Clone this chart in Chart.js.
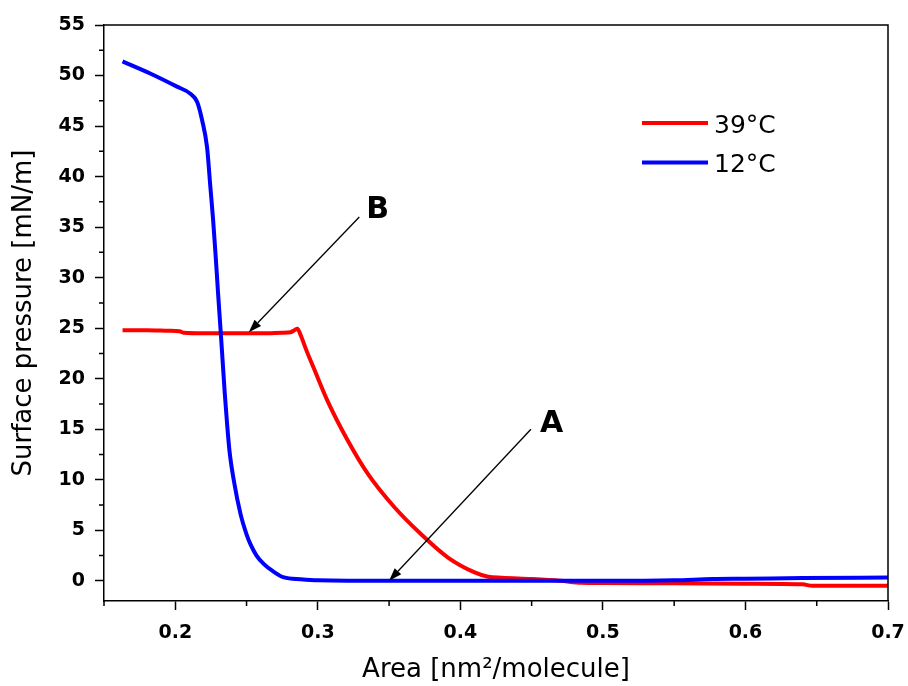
<!DOCTYPE html>
<html><head><meta charset="utf-8">
<script src="https://cdn.jsdelivr.net/npm/chart.js@4/dist/chart.umd.min.js"></script>
<style>html,body{margin:0;padding:0;background:#fff}#wrap{width:908px;height:686px}</style>
</head><body><div id="wrap"><canvas id="c" width="908" height="686"></canvas></div>
<script>
// ---- data ----
const seriesNames = ['39\u00B0C', '12\u00B0C'];

const area39 = [0.163, 0.180, 0.195, 0.203, 0.206, 0.220, 0.240, 0.260, 0.275, 0.281, 0.2835, 0.2857, 0.2880, 0.2920, 0.297, 0.3068, 0.3209, 0.335, 0.3536, 0.3725, 0.3913, 0.410, 0.4195, 0.429, 0.450, 0.470, 0.485, 0.500, 0.550, 0.600, 0.640, 0.647, 0.700];
const pressure39 = [24.8, 24.8, 24.75, 24.7, 24.55, 24.5, 24.5, 24.5, 24.55, 24.6, 24.8, 24.95, 24.3, 22.8, 21.1, 17.8, 13.9, 10.6, 7.3, 4.6, 2.3, 0.83, 0.4, 0.3, 0.17, 0.0, -0.2, -0.23, -0.25, -0.3, -0.35, -0.5, -0.5];

const area12 = [0.163, 0.1824, 0.2012, 0.2106, 0.2153, 0.2188, 0.2223, 0.2246, 0.2265, 0.2282, 0.2300, 0.2317, 0.2332, 0.2347, 0.2362, 0.2380, 0.2411, 0.2458, 0.2500, 0.2528, 0.2570, 0.2622, 0.2680, 0.2763, 0.288, 0.300, 0.350, 0.400, 0.450, 0.500, 0.550, 0.577, 0.600, 0.640, 0.700];
const pressure12 = [51.4, 50.2, 48.9, 48.2, 47.4, 45.6, 42.9, 39.0, 35.8, 32.4, 28.5, 25.0, 21.8, 18.6, 15.8, 12.9, 9.9, 6.6, 4.6, 3.6, 2.5, 1.65, 1.0, 0.33, 0.15, 0.05, 0.0, 0.0, 0.0, 0.0, 0.05, 0.17, 0.2, 0.27, 0.33];

const xTickValues = [0.2, 0.3, 0.4, 0.5, 0.6, 0.7];
const xTickLabels = ['0.2', '0.3', '0.4', '0.5', '0.6', '0.7'];
const xMinorTicks = [0.15, 0.25, 0.35, 0.45, 0.55, 0.65];
const yTickValues = [0, 5, 10, 15, 20, 25, 30, 35, 40, 45, 50, 55];
const yTickLabels = ['0', '5', '10', '15', '20', '25', '30', '35', '40', '45', '50', '55'];
const yMinorTicks = [2.5, 7.5, 12.5, 17.5, 22.5, 27.5, 32.5, 37.5, 42.5, 47.5, 52.5];

const xTitle = 'Area [nm\u00B2/molecule]';
const yTitle = 'Surface pressure [mN/m]';

// annotation arrows (data coordinates)
const annotationLabels = ['A', 'B'];
const arrowFrom = [[0.4495, 15.0], [0.3291, 36.0]];
const arrowTo = [[0.350, 0.0], [0.2516, 24.6]];
const labelAt = [[0.464, 14.7], [0.342, 35.9]];

const RED = '#ff0000';
const BLUE = '#0000ff';
const FONT = 'DejaVu Sans';

const toPts = (xs, ys) => xs.map((x, i) => ({ x: x, y: ys[i] }));

const extrasPlugin = {
  id: 'extras',
  afterDraw(chart) {
    const ctx = chart.ctx;
    const ca = chart.chartArea;
    const xs = chart.scales.x, ys = chart.scales.y;
    ctx.save();
    // frame top and right
    ctx.strokeStyle = '#000';
    ctx.lineWidth = 1.5;
    ctx.beginPath();
    ctx.moveTo(ca.left, ca.top);
    ctx.lineTo(ca.right, ca.top);
    ctx.lineTo(ca.right, ca.bottom);
    ctx.stroke();
    // minor ticks
    ctx.lineWidth = 1.5;
    ctx.beginPath();
    xMinorTicks.forEach(v => {
      const p = xs.getPixelForValue(v);
      ctx.moveTo(p, ca.bottom);
      ctx.lineTo(p, ca.bottom + 5);
    });
    yMinorTicks.forEach(v => {
      const p = ys.getPixelForValue(v);
      ctx.moveTo(ca.left - 5, p);
      ctx.lineTo(ca.left, p);
    });
    ctx.stroke();

    // arrows + labels
    for (let i = 0; i < annotationLabels.length; i++) {
      const x0 = xs.getPixelForValue(arrowFrom[i][0]), y0 = ys.getPixelForValue(arrowFrom[i][1]);
      const x1 = xs.getPixelForValue(arrowTo[i][0]), y1 = ys.getPixelForValue(arrowTo[i][1]);
      const ang = Math.atan2(y1 - y0, x1 - x0);
      const hl = 13, hw = 4.5;
      const bx = x1 - hl * Math.cos(ang), by = y1 - hl * Math.sin(ang);
      ctx.strokeStyle = '#000';
      ctx.lineWidth = 1.3;
      ctx.beginPath();
      ctx.moveTo(x0, y0);
      ctx.lineTo(bx, by);
      ctx.stroke();
      ctx.fillStyle = '#000';
      ctx.beginPath();
      ctx.moveTo(x1, y1);
      ctx.lineTo(bx + hw * Math.sin(ang), by - hw * Math.cos(ang));
      ctx.lineTo(bx - hw * Math.sin(ang), by + hw * Math.cos(ang));
      ctx.closePath();
      ctx.fill();
      ctx.font = 'bold 30px "' + FONT + '"';
      ctx.textAlign = 'center';
      ctx.textBaseline = 'alphabetic';
      ctx.fillText(annotationLabels[i], xs.getPixelForValue(labelAt[i][0]), ys.getPixelForValue(labelAt[i][1]));
    }

    // legend
    const colors = [RED, BLUE];
    const lineY = [123, 162.5];
    for (let i = 0; i < seriesNames.length; i++) {
      ctx.strokeStyle = colors[i];
      ctx.lineWidth = 4;
      ctx.lineCap = 'butt';
      ctx.beginPath();
      ctx.moveTo(642, lineY[i]);
      ctx.lineTo(708, lineY[i]);
      ctx.stroke();
      ctx.fillStyle = '#000';
      ctx.font = '25px "' + FONT + '"';
      ctx.textAlign = 'left';
      ctx.textBaseline = 'alphabetic';
      ctx.fillText(seriesNames[i], 714, lineY[i] + 9.5);
    }
    ctx.restore();
  }
};

new Chart(document.getElementById('c'), {
  type: 'line',
  data: {
    datasets: [
      { label: seriesNames[0], data: toPts(area39, pressure39), borderColor: RED, backgroundColor: RED,
        borderWidth: 4, pointRadius: 0, cubicInterpolationMode: 'monotone', order: 2, fill: false },
      { label: seriesNames[1], data: toPts(area12, pressure12), borderColor: BLUE, backgroundColor: BLUE,
        borderWidth: 4, pointRadius: 0, cubicInterpolationMode: 'monotone', order: 1, fill: false }
    ]
  },
  options: {
    responsive: false,
    devicePixelRatio: 1,
    animation: false,
    layout: { padding: { top: 25, right: 20, left: 0, bottom: 0 } },
    plugins: { legend: { display: false }, tooltip: { enabled: false } },
    scales: {
      x: {
        type: 'linear', min: 0.15, max: 0.7,
        afterBuildTicks: s => { s.ticks = xTickValues.map(v => ({ value: v })); },
        afterFit: s => { s.height = 85; s.paddingLeft = 0; s.paddingRight = 0; },
        ticks: { callback: (v, i) => xTickLabels[i], color: '#000', autoSkip: false, maxRotation: 0,
          font: { family: FONT, size: 19, weight: 'bold' }, padding: 12 },
        grid: { display: true, drawOnChartArea: false, drawTicks: true, tickLength: 9, tickColor: '#000', tickWidth: 1.5 },
        border: { display: true, color: '#000', width: 1.5 },
        title: { display: true, text: xTitle, color: '#000', font: { family: FONT, size: 26 }, padding: { top: 0, bottom: 0 } }
      },
      y: {
        type: 'linear', min: -2, max: 55,
        afterBuildTicks: s => { s.ticks = yTickValues.map(v => ({ value: v })); },
        afterFit: s => { s.width = 104; s.paddingTop = 0; s.paddingBottom = 0; },
        ticks: { callback: (v, i) => yTickLabels[i], color: '#000', autoSkip: false,
          font: { family: FONT, size: 19, weight: 'bold' }, padding: 10 },
        grid: { display: true, drawOnChartArea: false, drawTicks: true, tickLength: 9, tickColor: '#000', tickWidth: 1.5 },
        border: { display: true, color: '#000', width: 1.5 },
        title: { display: true, text: yTitle, color: '#000', font: { family: FONT, size: 26 }, padding: { top: 9, bottom: 0 } }
      }
    }
  },
  plugins: [extrasPlugin]
});
</script>
</body></html>
